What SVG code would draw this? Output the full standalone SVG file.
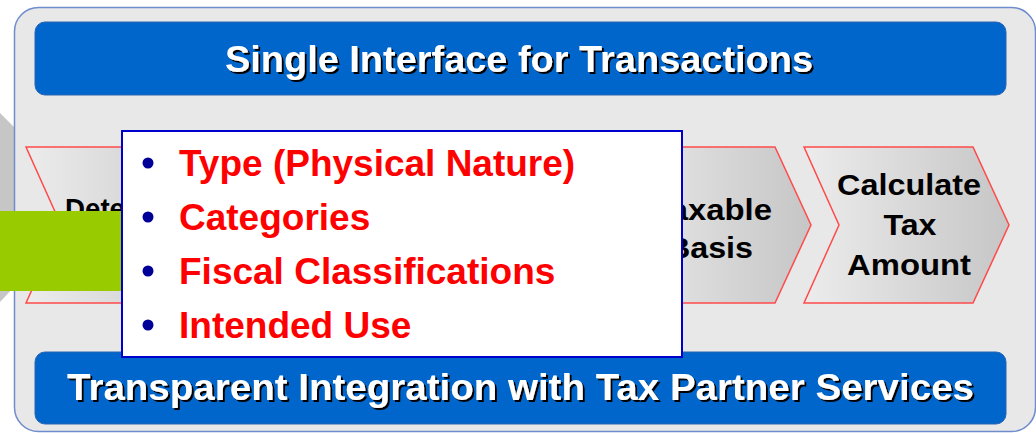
<svg xmlns="http://www.w3.org/2000/svg" width="1036" height="433" viewBox="0 0 1036 433">
<defs>
<linearGradient id="chev" x1="0" y1="0" x2="1" y2="0">
<stop offset="0" stop-color="#ececec"/>
<stop offset="1" stop-color="#c6c6c6"/>
</linearGradient>
<filter id="sh" x="-5%" y="-20%" width="110%" height="150%">
<feDropShadow dx="2" dy="2" stdDeviation="0.6" flood-color="#000" flood-opacity="1"/>
</filter>
</defs>
<style>
.bar{fill:#0066cc;stroke:#2a64b0;stroke-width:1}
.bartxt{font-family:"Liberation Sans",Arial,sans-serif;font-weight:bold;font-size:37px;fill:#fff;text-anchor:middle}
.chev{fill:url(#chev);stroke:#ff4a4a;stroke-width:1.5}
.ctxt{font-family:"Liberation Sans",Arial,sans-serif;font-weight:bold;font-size:29px;fill:#000;text-anchor:middle}
.btxt{font-family:"Liberation Sans",Arial,sans-serif;font-weight:bold;font-size:37px;fill:#ff0000}
.dot{fill:#000099}
</style>
<rect width="1036" height="433" fill="#ffffff"/>
<polygon points="0,113 14,127 14,287 0,302" fill="#c6c6c6"/>
<g id="panel">
<rect x="14.5" y="7.5" width="1021" height="424" rx="24" fill="#e8e8e8" stroke="#6f8ccc" stroke-width="1.5"/>
</g>
<g id="top-bar">
<rect class="bar" x="35" y="22" width="971" height="73" rx="10"/>
<text class="bartxt" x="519" y="72" textLength="588" lengthAdjust="spacingAndGlyphs" filter="url(#sh)">Single Interface for Transactions</text>
</g>
<g id="bottom-bar">
<rect class="bar" x="35" y="352" width="971" height="72" rx="10"/>
<text class="bartxt" x="520.5" y="400" textLength="907" lengthAdjust="spacingAndGlyphs" filter="url(#sh)">Transparent Integration with Tax Partner Services</text>
</g>
<g id="step-determine">
<polygon class="chev" points="26,147 195,147 231,225 195,303 26,303 61,225"/>
<text class="ctxt" x="65" y="219" style="text-anchor:start" textLength="60" lengthAdjust="spacingAndGlyphs">Dete</text>
</g>
<g id="step-taxable-basis">
<polygon class="chev" points="606,147 775,147 811,225 775,303 606,303 641,225"/>
<text class="ctxt" x="712" y="220" textLength="120" lengthAdjust="spacingAndGlyphs">Taxable</text>
<text class="ctxt" x="710" y="258" textLength="86" lengthAdjust="spacingAndGlyphs">Basis</text>
</g>
<g id="step-calculate">
<polygon class="chev" points="804,147 973,147 1009,225 973,303 804,303 839,225"/>
<text class="ctxt" x="909" y="195" textLength="144" lengthAdjust="spacingAndGlyphs">Calculate</text>
<text class="ctxt" x="910" y="235" textLength="53" lengthAdjust="spacingAndGlyphs">Tax</text>
<text class="ctxt" x="909" y="275" textLength="124" lengthAdjust="spacingAndGlyphs">Amount</text>
</g>
<g id="green-marker">
<rect x="0" y="211" width="122" height="80" fill="#99cc00"/>
</g>
<g id="popup">
<rect x="122" y="131" width="560" height="226" fill="#ffffff" stroke="#0000cc" stroke-width="2"/>
<circle class="dot" cx="148" cy="163" r="5.5"/>
<circle class="dot" cx="148" cy="217" r="5.5"/>
<circle class="dot" cx="148" cy="271" r="5.5"/>
<circle class="dot" cx="148" cy="325" r="5.5"/>
<text class="btxt" x="179" y="176">Type (Physical Nature)</text>
<text class="btxt" x="179" y="230">Categories</text>
<text class="btxt" x="179" y="284">Fiscal Classifications</text>
<text class="btxt" x="179" y="338">Intended Use</text>
</g>
<g id="connectors"></g>
</svg>
